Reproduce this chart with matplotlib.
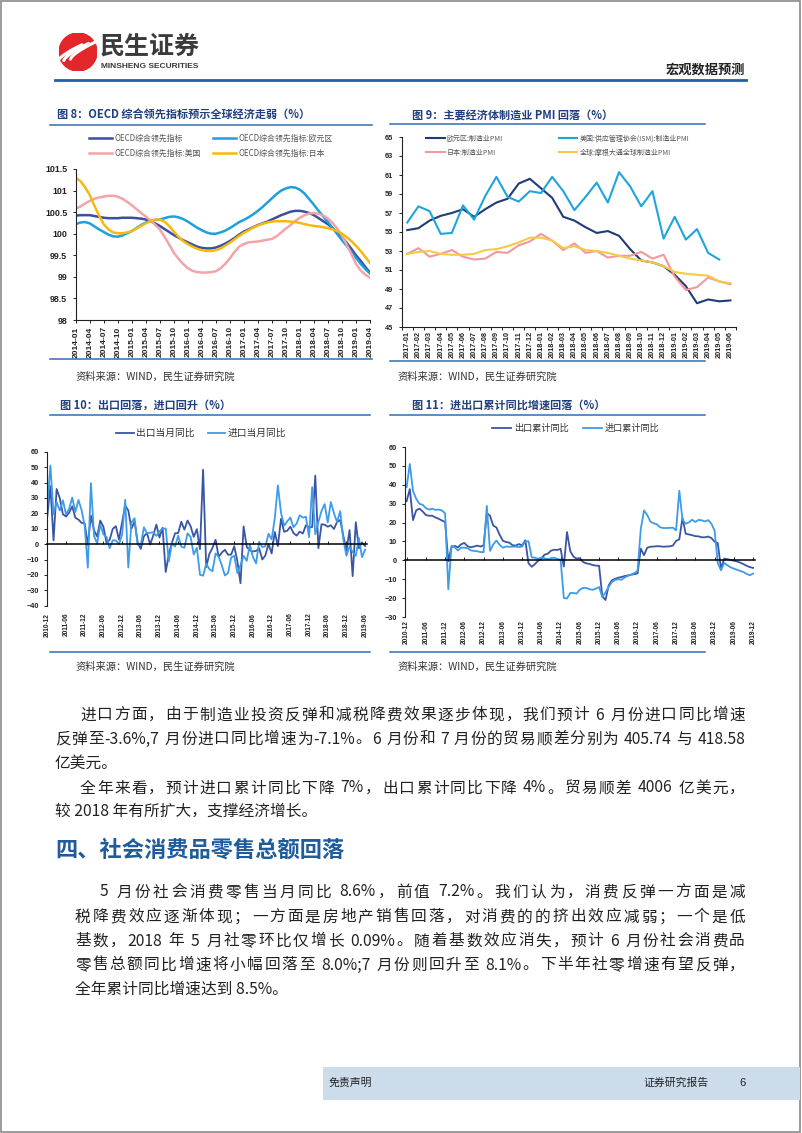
import re
import matplotlib
matplotlib.use('Agg')
import matplotlib.pyplot as plt
import matplotlib.transforms as mtrans
from matplotlib.patches import Rectangle, Circle
from matplotlib.lines import Line2D
import numpy as np
import pandas as pd

# ---------------- DATA ----------------
oecd_ticks = ['2014-01', '2014-04', '2014-07', '2014-10', '2015-01', '2015-04', '2015-07', '2015-10',
              '2016-01', '2016-04', '2016-07', '2016-10', '2017-01', '2017-04', '2017-07', '2017-10',
              '2018-01', '2018-04', '2018-07', '2018-10', '2019-01', '2019-04']
oecd_total = [100.42, 100.43, 100.43, 100.43, 100.41, 100.39, 100.37, 100.36, 100.36, 100.36, 100.37, 100.37,
              100.37, 100.36, 100.35, 100.33, 100.29, 100.24, 100.18, 100.11, 100.04, 99.97, 99.91, 99.85,
              99.80, 99.75, 99.70, 99.67, 99.66, 99.66, 99.68, 99.72, 99.77, 99.83, 99.90, 99.98,
              100.05, 100.10, 100.15, 100.20, 100.24, 100.28, 100.33, 100.38, 100.43, 100.47, 100.51, 100.53,
              100.53, 100.51, 100.48, 100.43, 100.36, 100.29, 100.22, 100.13, 100.03, 99.92, 99.79, 99.65,
              99.50, 99.37, 99.23, 99.10]
oecd_euro = [100.22, 100.26, 100.27, 100.24, 100.17, 100.10, 100.04, 99.98, 99.94, 99.93, 99.96, 100.01,
             100.06, 100.13, 100.20, 100.26, 100.30, 100.32, 100.33, 100.36, 100.39, 100.40, 100.38, 100.34,
             100.28, 100.21, 100.14, 100.08, 100.03, 100.00, 100.00, 100.03, 100.07, 100.13, 100.20, 100.27,
             100.32, 100.38, 100.45, 100.53, 100.62, 100.72, 100.82, 100.92, 101.00, 101.05, 101.08, 101.07,
             101.02, 100.93, 100.80, 100.67, 100.53, 100.40, 100.27, 100.13, 99.99, 99.85, 99.72, 99.58,
             99.44, 99.30, 99.18, 99.08]
oecd_us = [100.58, 100.63, 100.70, 100.76, 100.81, 100.84, 100.86, 100.88, 100.88, 100.86, 100.81, 100.74,
           100.66, 100.57, 100.48, 100.40, 100.31, 100.21, 100.10, 99.93, 99.75, 99.56, 99.42, 99.30,
           99.20, 99.14, 99.11, 99.10, 99.10, 99.11, 99.13, 99.20, 99.30, 99.43, 99.58, 99.70,
           99.76, 99.80, 99.81, 99.82, 99.84, 99.86, 99.88, 99.94, 100.03, 100.12, 100.20, 100.30,
           100.37, 100.43, 100.47, 100.48, 100.46, 100.42, 100.35, 100.25, 100.12, 99.95, 99.75, 99.53,
           99.30, 99.15, 99.05, 98.98]
oecd_japan = [101.30, 101.22, 101.08, 100.90, 100.65, 100.42, 100.22, 100.10, 100.03, 100.01, 100.01, 100.03,
              100.06, 100.12, 100.18, 100.24, 100.29, 100.33, 100.33, 100.28, 100.18, 100.05, 99.93, 99.83,
              99.76, 99.70, 99.65, 99.62, 99.60, 99.60, 99.62, 99.66, 99.72, 99.79, 99.87, 99.95,
              100.02, 100.08, 100.14, 100.19, 100.23, 100.26, 100.28, 100.29, 100.29, 100.29, 100.28, 100.27,
              100.25, 100.22, 100.20, 100.18, 100.17, 100.15, 100.13, 100.10, 100.06, 100.00, 99.92, 99.83,
              99.72, 99.60, 99.46, 99.32]

pmi_months = ['2017-01', '2017-02', '2017-03', '2017-04', '2017-05', '2017-06', '2017-07', '2017-08',
              '2017-09', '2017-10', '2017-11', '2017-12', '2018-01', '2018-02', '2018-03', '2018-04',
              '2018-05', '2018-06', '2018-07', '2018-08', '2018-09', '2018-10', '2018-11', '2018-12',
              '2019-01', '2019-02', '2019-03', '2019-04', '2019-05', '2019-06']
pmi_euro = [55.2, 55.4, 56.2, 56.7, 57.0, 57.4, 56.6, 57.4, 58.1, 58.5, 60.1, 60.6, 59.6, 58.6, 56.6,
            56.2, 55.5, 54.9, 55.1, 54.6, 53.2, 52.0, 51.8, 51.4, 50.5, 49.3, 47.5, 47.9, 47.7, 47.8]
pmi_us = [56.0, 57.7, 57.2, 54.8, 54.9, 57.8, 56.3, 58.8, 60.8, 58.7, 58.2, 59.3, 59.1, 60.8, 59.3,
          57.3, 58.7, 60.2, 58.1, 61.3, 59.8, 57.7, 59.3, 54.3, 56.6, 54.2, 55.3, 52.8, 52.1, np.nan]
pmi_japan = [52.7, 53.3, 52.4, 52.7, 53.1, 52.4, 52.1, 52.2, 52.9, 52.8, 53.6, 54.0, 54.8, 54.1, 53.1,
             53.8, 52.8, 53.0, 52.3, 52.5, 52.5, 52.9, 52.2, 52.6, 50.3, 48.9, 49.2, 50.2, 49.8, 49.5]
pmi_global = [52.7, 52.9, 53.0, 52.7, 52.6, 52.6, 52.7, 53.1, 53.2, 53.5, 53.9, 54.4, 54.4, 54.1, 53.3,
              53.5, 53.1, 53.0, 52.8, 52.5, 52.2, 52.0, 51.8, 51.4, 50.8, 50.6, 50.5, 50.4, 49.8, 49.6]

# Fig 10: monthly YoY, 2010-12 .. 2019-06
export_yoy = [17.9,
              37.7, 2.4, 35.8, 29.9, 19.4, 17.9, 20.4, 24.5, 17.1, 15.9, 13.8, 13.4,
              -0.5, 18.4, 8.9, 4.9, 15.3, 11.3, 1.0, 2.7, 9.9, 11.6, 2.9, 14.1,
              25.0, 21.8, 10.0, 14.7, 1.0, -3.1, 5.1, 7.2, -0.3, 5.6, 12.7, 4.3,
              10.6, -18.1, -6.6, 0.9, 7.0, 7.2, 14.5, 9.4, 15.3, 11.6, 4.7, 9.7,
              -3.3, 48.3, -15.0, -6.4, -2.5, 2.8, -8.3, -5.5, -3.7, -6.9, -6.8, -1.4,
              -11.2, -25.4, 11.5, -1.8, -4.1, -4.8, -4.4, -2.8, -10.0, -7.3, 0.1, -6.1,
              7.9, -1.3, 16.4, 8.0, 8.7, 11.3, 7.2, 5.5, 8.1, 6.9, 12.3, 10.9,
              11.1, 44.5, -2.7, 12.9, 12.6, 11.3, 12.2, 9.8, 14.5, 15.6, 5.4, -4.4,
              9.1, -20.8, 14.2, -2.7, 1.1, -1.3]
import_yoy = [25.6,
              51.0, 19.4, 27.3, 21.8, 28.4, 19.3, 22.9, 30.2, 20.9, 28.7, 22.1, 11.8,
              -15.3, 39.6, 5.3, 0.3, 12.7, 6.3, 4.7, -2.6, 2.4, 2.4, 0.0, 6.0,
              28.8, -15.2, 14.1, 16.8, -0.3, -0.7, 10.9, 7.0, 7.4, 7.6, 5.3, 8.3,
              10.0, 10.1, -11.3, 0.8, -1.6, 5.5, -1.6, -2.4, 7.0, 4.6, -6.7, -2.4,
              -19.9, -20.5, -12.7, -16.2, -17.6, -6.1, -8.1, -13.8, -20.4, -18.8, -8.7, -7.6,
              -18.8, -13.8, -7.6, -10.9, -0.4, -8.4, -12.5, 1.5, -1.9, -1.4, 6.7, 3.1,
              16.7, 38.1, 20.3, 11.9, 14.8, 17.2, 11.0, 13.3, 18.7, 17.2, 17.7, 4.5,
              36.9, 6.3, 14.4, 21.5, 26.0, 14.1, 27.3, 20.0, 14.3, 21.4, 3.0, -7.6,
              -1.5, -5.2, -7.6, 4.0, -8.5, -3.6]

# Fig 11: cumulative YoY, 2010-12 .. 2019-12
export_cum = [31.3,
              37.7, 21.3, 26.5, 27.4, 25.9, 24.0, 23.6, 23.6, 22.7, 22.0, 21.1, 20.3,
              -0.5, 7.0, 7.6, 6.9, 8.5, 9.2, 7.5, 6.9, 7.3, 7.8, 7.3, 7.9,
              25.0, 23.6, 18.4, 17.4, 13.5, 10.4, 9.7, 9.4, 8.0, 7.8, 8.6, 7.9,
              10.6, -1.6, -3.4, -2.0, -0.2, 0.9, 3.0, 3.5, 5.1, 5.6, 5.5, 6.1,
              -3.3, 15.0, 4.9, 2.0, 0.9, 1.2, -0.9, -1.6, -1.9, -2.5, -2.8, -2.9,
              -19.0, -21.0, -13.2, -10.6, -9.8, -9.2, -8.8, -8.3, -8.0, -7.6, -7.3, -6.9,
              6.2, 2.7, 6.7, 7.2, 7.3, 7.5, 7.4, 7.2, 7.3, 7.4, 7.8, 10.3,
              11.1, 22.5, 14.1, 13.7, 13.3, 12.8, 12.7, 12.2, 12.2, 12.6, 11.8, 9.9,
              9.1, -4.4, 0.9, 0.6, 0.2, -0.2, -0.6, -1.2, -2.0, -2.9, -3.6, -4.0]
import_cum = [38.7,
              51.0, 36.6, 32.6, 29.9, 29.4, 27.6, 26.9, 27.3, 26.7, 26.9, 26.4, 24.9,
              -15.3, 7.7, 6.9, 5.2, 6.7, 6.7, 6.4, 5.3, 5.0, 4.8, 4.4, 4.3,
              28.8, 5.0, 8.4, 10.5, 8.2, 6.7, 7.3, 7.2, 7.2, 7.3, 7.0, 7.3,
              10.0, 10.1, 1.6, 1.4, 0.8, 1.5, 1.1, 0.6, 1.1, 1.4, 0.7, 0.4,
              -19.9, -20.2, -17.3, -17.3, -17.6, -15.5, -14.6, -14.6, -15.3, -15.6, -15.0, -14.1,
              -19.4, -17.0, -14.0, -11.5, -10.3, -10.0, -10.3, -9.0, -8.2, -7.6, -6.8, -5.5,
              16.7, 26.4, 24.0, 20.5, 19.6, 19.1, 17.5, 17.1, 17.1, 17.2, 17.3, 15.9,
              36.9, 21.5, 19.4, 20.1, 21.5, 20.3, 21.4, 21.2, 20.6, 21.3, 19.4, 15.8,
              -1.5, -5.3, -1.4, -2.6, -3.7, -4.4, -5.0, -5.6, -6.2, -7.2, -7.9, -7.0]

trade_months = [str(p) for p in pd.period_range('2010-12', '2019-06', freq='M')]
cum_months = [str(p) for p in pd.period_range('2010-12', '2019-12', freq='M')]

# ---------------- STYLE ----------------
W, H = 802, 1133
plt.rcParams['font.family'] = ['Noto Sans CJK SC', 'DejaVu Sans']
NUM = ['Liberation Sans', 'DejaVu Sans']
TITLE_C = '#1F3F7F'
RULE_C = '#2E6FB4'
fig = plt.figure(figsize=(W / 100, H / 100), dpi=100)
renderer = fig.canvas.get_renderer()


def R(x0, y0, x1, y1):
    return [x0 / W, 1 - y1 / H, (x1 - x0) / W, (y1 - y0) / H]


def FX(x):
    return x / W


def FY(y):
    return 1 - y / H


def hline(x0, x1, y, color=RULE_C, lw=1.1):
    fig.add_artist(Line2D([FX(x0), FX(x1)], [FY(y), FY(y)], color=color, lw=lw,
                          transform=fig.transFigure))


def ftext(x, y, s, **kw):
    return fig.text(FX(x), FY(y), s, **kw)


def text_width(s, fs):
    t = fig.text(0, 0, s, fontsize=fs)
    w = t.get_window_extent(renderer=renderer).width
    t.remove()
    return w


def justified(x0, x1, y, s, fs, color='#222222'):
    # tokens: runs of ASCII stay together, CJK chars are separate; extra space goes between tokens
    tokens = re.findall(r'[\x21-\x7e]+|\s+|.', s)
    base = text_width('||', fs)
    starts = []
    acc = ''
    for tok in tokens:
        starts.append(text_width('|' + acc + '|', fs) - base)
        acc += tok
    total = text_width('|' + acc + '|', fs) - base
    extra = (x1 - x0 - total) / max(len(tokens) - 1, 1)
    for i, tok in enumerate(tokens):
        if tok.isspace():
            continue
        ftext(x0 + starts[i] + i * extra, y, tok, fontsize=fs, color=color, va='center', ha='left')


def style_axis(ax, ysize=5.4):
    for s in ['top', 'right']:
        ax.spines[s].set_visible(False)
    for s in ['left', 'bottom']:
        ax.spines[s].set_color('#222222')
        ax.spines[s].set_linewidth(0.8)
    ax.tick_params(axis='both', colors='#222222', length=2.5, width=0.7)
    ax.tick_params(axis='y', labelsize=ysize)
    for lab in ax.get_yticklabels():
        lab.set_family(NUM)
        lab.set_fontweight('bold')


# ---------------- PAGE FRAME / HEADER ----------------
fig.add_artist(Rectangle((FX(0.5), FY(1131.5)), FX(800) - FX(0.5), FY(0.5) - FY(1131.5),
                         transform=fig.transFigure, fill=False, edgecolor='#8A8A8A', lw=1.2))

lax = fig.add_axes(R(59, 33, 97, 71))
lax.set_xlim(-1, 1)
lax.set_ylim(-1, 1)
lax.set_aspect('equal')
lax.axis('off')
lax.add_patch(Circle((0, 0), 1, color='#E2262A'))
for off in [-0.35, 0.0, 0.35]:
    t = np.linspace(0, 1, 20)
    xs = -0.75 + 1.3 * t + off
    ys = -0.45 + 0.9 * t ** 0.7 + off * 0.2
    lax.plot(xs, ys, color='white', lw=2.2, solid_capstyle='round')

ftext(100, 47, '民生证券', fontsize=18, fontweight='bold', color='#3A3A3A', va='center', ha='left')
ftext(101, 66, 'MINSHENG SECURITIES', fontsize=6, fontweight='bold', color='#3A3A3A',
      va='center', ha='left', family=NUM)
ftext(745, 70, '宏观数据预测', fontsize=9.5, fontweight='bold', color='#222222', va='center', ha='right')
hline(55, 746, 80, color='#1F5FA6', lw=2.0)

# ---------------- FIG 8 ----------------
ftext(57, 115, '图 8：OECD 综合领先指标预示全球经济走弱（%）', fontsize=8, fontweight='bold',
      color=TITLE_C, va='center')
hline(50, 372, 125)
hline(50, 372, 359)
ftext(75, 377, '资料来源：WIND，民生证券研究院', fontsize=7.4, color='#333333', va='center')

ax8 = fig.add_axes(R(75.7, 169, 370, 320))
x8 = np.arange(len(oecd_total))
l1, = ax8.plot(x8, oecd_total, color='#3B4FA0', lw=1.8, label='OECD综合领先指标')
l2, = ax8.plot(x8, oecd_euro, color='#1EA0DB', lw=1.8, label='OECD综合领先指标:欧元区')
l3, = ax8.plot(x8, oecd_us, color='#F4A3A8', lw=1.8, label='OECD综合领先指标:美国')
l4, = ax8.plot(x8, oecd_japan, color='#F5B90F', lw=1.8, label='OECD综合领先指标:日本')
ax8.set_xlim(0, len(oecd_total) - 1)
ax8.set_ylim(98, 101.5)
ax8.set_yticks(np.arange(98, 101.51, 0.5))
ax8.set_yticklabels(['{:g}'.format(v) for v in np.arange(98, 101.51, 0.5)])
ax8.set_xticks(np.arange(0, len(oecd_total), 3))
ax8.set_xticklabels(oecd_ticks, rotation=90, fontsize=6, fontweight='bold', family=NUM)
style_axis(ax8, ysize=6.4)
ax8.tick_params(axis='x', pad=2)
fig.legend([l1, l3, l2, l4], [l1.get_label(), l3.get_label(), l2.get_label(), l4.get_label()],
           ncol=2, loc='upper left', bbox_to_anchor=(FX(89), FY(133.5)), frameon=False,
           fontsize=5.7, handlelength=2.9, handletextpad=0.3, columnspacing=1.6,
           labelspacing=0.8, borderpad=0, borderaxespad=0, labelcolor='#555555')

# ---------------- FIG 9 ----------------
ftext(412, 115, '图 9：主要经济体制造业 PMI 回落（%）', fontsize=8, fontweight='bold',
      color=TITLE_C, va='center')
hline(390, 705, 124)
hline(390, 705, 361)
ftext(397, 377, '资料来源：WIND，民生证券研究院', fontsize=7.4, color='#333333', va='center')

ax9 = fig.add_axes(R(401.7, 137, 736, 327))
x9 = np.arange(len(pmi_months))
p1, = ax9.plot(x9, pmi_euro, color='#1F3C78', lw=1.5, label='欧元区:制造业PMI')
p2, = ax9.plot(x9, pmi_us, color='#1FA5DC', lw=1.5, label='美国:供应管理协会(ISM):制造业PMI')
p3, = ax9.plot(x9, pmi_japan, color='#F4989C', lw=1.5, label='日本:制造业PMI')
p4, = ax9.plot(x9, pmi_global, color='#F7C948', lw=1.5, label='全球:摩根大通全球制造业PMI')
ax9.set_xlim(-0.5, len(pmi_months) - 0.5)
ax9.set_ylim(45, 65)
ax9.set_yticks(np.arange(45, 65.1, 2))
ax9.set_xticks(x9)
ax9.set_xticklabels(pmi_months, rotation=90, fontsize=5.3, fontweight='bold', family=NUM)
ax9.set_xticks(np.arange(-0.5, len(pmi_months), 1), minor=True)
style_axis(ax9, ysize=5.3)
ax9.tick_params(axis='x', which='major', length=0, pad=3)
ax9.tick_params(axis='x', which='minor', length=2.5, width=0.7, colors='#222222')
ax9.legend([p1, p3, p2, p4], [p1.get_label(), p3.get_label(), p2.get_label(), p4.get_label()],
           ncol=2, loc='upper left', bbox_to_anchor=(FX(426), FY(134.5)),
           bbox_transform=fig.transFigure, frameon=False,
           fontsize=5.0, handlelength=2.7, handletextpad=0.3, columnspacing=8.0,
           labelspacing=0.9, borderpad=0, borderaxespad=0, labelcolor='#555555')

# ---------------- FIG 10 ----------------
ftext(60, 405, '图 10：出口回落，进口回升（%）', fontsize=8, fontweight='bold',
      color=TITLE_C, va='center')
hline(50, 370, 415)
hline(50, 370, 652)
ftext(75, 667, '资料来源：WIND，民生证券研究院', fontsize=7.4, color='#333333', va='center')

ax10 = fig.add_axes(R(47.3, 451.7, 367, 605.7))
x10 = np.arange(len(trade_months))
e1, = ax10.plot(x10, export_yoy, color='#3A55A4', lw=1.3, label='出口当月同比')
e2, = ax10.plot(x10, import_yoy, color='#3D9BE9', lw=1.3, label='进口当月同比')
ax10.set_xlim(0, len(trade_months) - 0.4)
ax10.set_ylim(-40, 60)
ax10.set_yticks(np.arange(-40, 61, 10))
style_axis(ax10, ysize=5.3)
ax10.spines['bottom'].set_position(('data', 0))
ax10.spines['bottom'].set_color('black')
ax10.spines['bottom'].set_linewidth(1.1)
tick10 = x10[::6]
ax10.set_xticks(tick10)
ax10.tick_params(axis='x', direction='in', length=2, labelbottom=False)
tr10 = mtrans.blended_transform_factory(ax10.transData, ax10.transAxes)
for i in tick10:
    ax10.text(i, -0.045, trade_months[i], transform=tr10, rotation=90, ha='center', va='top',
              fontsize=4.7, fontweight='bold', family=NUM, color='#222222')
fig.legend([e1, e2], [e1.get_label(), e2.get_label()], ncol=2, loc='upper left',
           bbox_to_anchor=(FX(116), FY(428)), frameon=False, fontsize=7, handlelength=1.8,
           handletextpad=0.3, columnspacing=1.3, borderpad=0, borderaxespad=0,
           labelcolor='#333333')

# ---------------- FIG 11 ----------------
ftext(412, 405, '图 11：进出口累计同比增速回落（%）', fontsize=8, fontweight='bold',
      color=TITLE_C, va='center')
hline(390, 705, 415)
hline(390, 705, 652)
ftext(397, 667, '资料来源：WIND，民生证券研究院', fontsize=7.4, color='#333333', va='center')

ax11 = fig.add_axes(R(405, 447, 755, 617))
x11 = np.arange(len(cum_months))
c1, = ax11.plot(x11, export_cum, color='#3A55A4', lw=1.3, label='出口累计同比')
c2, = ax11.plot(x11, import_cum, color='#3D9BE9', lw=1.3, label='进口累计同比')
ax11.set_xlim(-0.5, len(cum_months) - 0.4)
ax11.set_ylim(-30, 60)
ax11.set_yticks(np.arange(-30, 61, 10))
style_axis(ax11, ysize=5.3)
ax11.spines['bottom'].set_position(('data', 0))
ax11.spines['bottom'].set_color('black')
ax11.spines['bottom'].set_linewidth(1.1)
tick11 = x11[::6]
ax11.set_xticks(tick11)
ax11.tick_params(axis='x', direction='in', length=2, labelbottom=False)
tr11 = mtrans.blended_transform_factory(ax11.transData, ax11.transAxes)
for i in tick11:
    ax11.text(i, -0.02, cum_months[i], transform=tr11, rotation=90, ha='center', va='top',
              fontsize=4.7, fontweight='bold', family=NUM, color='#222222')
fig.legend([c1, c2], [c1.get_label(), c2.get_label()], ncol=2, loc='upper left',
           bbox_to_anchor=(FX(492), FY(424)), frameon=False, fontsize=6.6, handlelength=2.1,
           handletextpad=0.3, columnspacing=1.5, borderpad=0, borderaxespad=0,
           labelcolor='#333333')

# ---------------- BODY TEXT ----------------
FS = 11.3
RIGHT = 745
body_just = [
    (80, 715, '进口方面，由于制造业投资反弹和减税降费效果逐步体现，我们预计 6 月份进口同比增速'),
    (55, 739, '反弹至-3.6%,7 月份进口同比增速为-7.1%。6 月份和 7 月份的贸易顺差分别为 405.74 与 418.58'),
    (80, 788, '全年来看，预计进口累计同比下降 7%，出口累计同比下降 4%。贸易顺差 4006 亿美元，'),
    (100, 892, '5 月份社会消费零售当月同比 8.6%，前值 7.2%。我们认为，消费反弹一方面是减'),
    (75, 917, '税降费效应逐渐体现；一方面是房地产销售回落，对消费的的挤出效应减弱；一个是低'),
    (75, 941, '基数，2018 年 5 月社零环比仅增长 0.09%。随着基数效应消失，预计 6 月份社会消费品'),
    (75, 965, '零售总额同比增速将小幅回落至 8.0%;7 月份则回升至 8.1%。下半年社零增速有望反弹，'),
]
body_plain = [
    (55, 763, '亿美元。'),
    (55, 811, '较 2018 年有所扩大，支撑经济增长。'),
    (75, 989, '全年累计同比增速达到 8.5%。'),
]
for x, y, s in body_just:
    justified(x, RIGHT, y, s, FS)
for x, y, s in body_plain:
    ftext(x, y, s, fontsize=FS, color='#222222', va='center', ha='left')

ftext(55, 850, '四、社会消费品零售总额回落', fontsize=16, fontweight='bold', color='#1F5C9E',
      va='center', ha='left')

# ---------------- FOOTER ----------------
fig.add_artist(Rectangle((FX(323), FY(1100)), FX(800) - FX(323), FY(1067) - FY(1100),
                         transform=fig.transFigure, color='#CCDCEB', lw=0))
ftext(329, 1083, '免责声明', fontsize=7.8, color='#222222', va='center')
ftext(643, 1083, '证券研究报告', fontsize=7.8, color='#222222', va='center')
ftext(739, 1083, '6', fontsize=8, color='#222222', va='center', family=NUM)

fig.savefig('out.png', dpi=100)
